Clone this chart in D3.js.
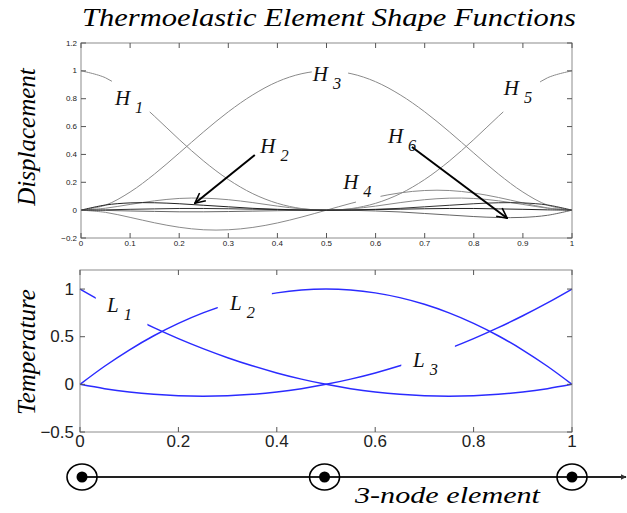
<!DOCTYPE html>
<html>
<head>
<meta charset="utf-8">
<script src="https://cdn.jsdelivr.net/npm/d3@7"></script>
<style>
  body { margin: 0; background: #fff; }
  svg { display: block; }
</style>
</head>
<body>
<div id="chart"></div>
<script>
// sample positions along the element (natural coordinate 0..1)
const xs = [0, 0.05, 0.1, 0.15, 0.2, 0.25, 0.3, 0.35, 0.4, 0.45, 0.5,
            0.55, 0.6, 0.65, 0.7, 0.75, 0.8, 0.85, 0.9, 0.95, 1];

// displacement shape functions
const H1 = [1, 0.950, 0.829, 0.673, 0.507, 0.352, 0.220, 0.118, 0.049, 0.011, 0,
            0.009, 0.029, 0.054, 0.075, 0.086, 0.084, 0.067, 0.041, 0.014, 0];
const H2 = [0, 0.037, 0.052, 0.053, 0.046, 0.035, 0.024, 0.013, 0.006, 0.001, 0,
            0.001, 0.004, 0.007, 0.010, 0.012, 0.012, 0.009, 0.006, 0.002, 0];
const H3 = [0, 0.036, 0.130, 0.260, 0.410, 0.563, 0.706, 0.828, 0.922, 0.980, 1,
            0.980, 0.922, 0.828, 0.706, 0.563, 0.410, 0.260, 0.130, 0.036, 0];
const H4 = [0, -0.016, -0.052, -0.091, -0.123, -0.141, -0.141, -0.124, -0.092, -0.049, 0,
            0.049, 0.092, 0.124, 0.141, 0.141, 0.123, 0.091, 0.052, 0.016, 0];
const H5 = [0, 0.014, 0.041, 0.067, 0.084, 0.086, 0.075, 0.054, 0.029, 0.009, 0,
            0.011, 0.049, 0.118, 0.220, 0.352, 0.507, 0.673, 0.829, 0.950, 1];
const H6 = [0, -0.002, -0.006, -0.009, -0.012, -0.012, -0.010, -0.007, -0.004, -0.001, 0,
            -0.001, -0.006, -0.013, -0.024, -0.035, -0.046, -0.053, -0.052, -0.037, 0];
const H6m = [0, 0.002, 0.006, 0.009, 0.012, 0.012, 0.010, 0.007, 0.004, 0.001, 0,
            0.001, 0.006, 0.013, 0.024, 0.035, 0.046, 0.053, 0.052, 0.037, 0];

// temperature shape functions, lower panel
const L1 = [1, 0.855, 0.72, 0.595, 0.48, 0.375, 0.28, 0.195, 0.12, 0.055, 0,
            -0.045, -0.08, -0.105, -0.12, -0.125, -0.12, -0.105, -0.08, -0.045, 0];
const L2 = [0, 0.19, 0.36, 0.51, 0.64, 0.75, 0.84, 0.91, 0.96, 0.99, 1,
            0.99, 0.96, 0.91, 0.84, 0.75, 0.64, 0.51, 0.36, 0.19, 0];
const L3 = [0, -0.045, -0.08, -0.105, -0.12, -0.125, -0.12, -0.105, -0.08, -0.045, 0,
            0.055, 0.12, 0.195, 0.28, 0.375, 0.48, 0.595, 0.72, 0.855, 1];

const topXTicks = [0, 0.1, 0.2, 0.3, 0.4, 0.5, 0.6, 0.7, 0.8, 0.9, 1];
const topYTicks = [-0.2, 0, 0.2, 0.4, 0.6, 0.8, 1, 1.2];
const botXTicks = [0, 0.2, 0.4, 0.6, 0.8, 1];
const botYTicks = [-0.5, 0, 0.5, 1];
const nodes = [0, 0.495, 1];

const width = 627, height = 513;
const serif = "'Liberation Serif', 'DejaVu Serif', serif";
const sans = "'Liberation Sans', Arial, sans-serif";

const svg = d3.select("#chart").append("svg")
    .attr("width", width)
    .attr("height", height);

svg.append("rect").attr("width", width).attr("height", height).attr("fill", "#fff");

const defs = svg.append("defs");
defs.append("marker")
    .attr("id", "vhead")
    .attr("viewBox", "0 0 12 12")
    .attr("refX", 11).attr("refY", 6)
    .attr("markerWidth", 12).attr("markerHeight", 12)
    .attr("markerUnits", "userSpaceOnUse")
    .attr("orient", "auto")
    .append("path")
    .attr("d", "M1,1 L11,6 L1,11")
    .attr("fill", "none")
    .attr("stroke", "#000")
    .attr("stroke-width", 1.6);
defs.append("marker")
    .attr("id", "smallhead")
    .attr("viewBox", "0 0 10 10")
    .attr("refX", 9).attr("refY", 5)
    .attr("markerWidth", 6).attr("markerHeight", 6)
    .attr("markerUnits", "userSpaceOnUse")
    .attr("orient", "auto")
    .append("path")
    .attr("d", "M0,0 L10,5 L0,10 Z")
    .attr("fill", "#333");

// ── title ──
svg.append("text")
    .attr("x", 329).attr("y", 26)
    .attr("text-anchor", "middle")
    .attr("font-family", serif)
    .attr("font-style", "italic")
    .attr("font-size", 25)
    .attr("textLength", 494)
    .attr("lengthAdjust", "spacingAndGlyphs")
    .text("Thermoelastic Element Shape Functions");

// helper: MATLAB-like boxed axes with inward ticks
function boxAxes(g, x, y, xTicks, yTicks, fontSize, xFmt, yFmt, labelGap) {
    const [x0, x1] = x.range();
    const [y0, y1] = y.range();
    g.append("rect")
        .attr("x", x0).attr("y", y1)
        .attr("width", x1 - x0).attr("height", y0 - y1)
        .attr("fill", "none").attr("stroke", "#8c8c8c").attr("stroke-width", 1);
    const tl = 5;
    xTicks.forEach(t => {
        const px = x(t);
        g.append("line").attr("x1", px).attr("x2", px).attr("y1", y0).attr("y2", y0 - tl)
            .attr("stroke", "#555");
        g.append("line").attr("x1", px).attr("x2", px).attr("y1", y1).attr("y2", y1 + tl)
            .attr("stroke", "#555");
        g.append("text").attr("x", px).attr("y", y0 + labelGap.x)
            .attr("text-anchor", "middle")
            .attr("font-family", sans).attr("font-size", fontSize).attr("fill", "#222")
            .text(xFmt(t));
    });
    yTicks.forEach(t => {
        const py = y(t);
        g.append("line").attr("x1", x0).attr("x2", x0 + tl).attr("y1", py).attr("y2", py)
            .attr("stroke", "#555");
        g.append("line").attr("x1", x1).attr("x2", x1 - tl).attr("y1", py).attr("y2", py)
            .attr("stroke", "#555");
        g.append("text").attr("x", x0 - labelGap.y).attr("y", py)
            .attr("text-anchor", "end").attr("dominant-baseline", "central")
            .attr("font-family", sans).attr("font-size", fontSize).attr("fill", "#222")
            .text(yFmt(t));
    });
}

function drawCurve(g, x, y, values, gap, color, strokeW, id) {
    const line = d3.line()
        .x((d, i) => x(xs[i]))
        .y(d => y(d))
        .curve(d3.curveCatmullRom);
    const path = g.append("path")
        .attr("d", line(values))
        .attr("fill", "none")
        .attr("stroke", color)
        .attr("stroke-width", strokeW);
    if (gap) {
        const cp = defs.append("clipPath").attr("id", id);
        cp.append("rect").attr("x", 0).attr("y", 0)
            .attr("width", x(gap[0])).attr("height", height);
        cp.append("rect").attr("x", x(gap[1])).attr("y", 0)
            .attr("width", width - x(gap[1])).attr("height", height);
        path.attr("clip-path", `url(#${id})`);
    }
}

function subLabel(g, px, py, main, sub, size) {
    const t = g.append("text")
        .attr("x", px).attr("y", py)
        .attr("font-family", serif).attr("font-style", "italic")
        .attr("font-size", size).attr("fill", "#111");
    t.append("tspan").text(main);
    t.append("tspan").attr("dx", 5).attr("dy", 8)
        .attr("font-size", size * 0.78).text(sub);
}

// ── upper panel: displacement ──
const xTop = d3.scaleLinear().domain([0, 1]).range([81, 572]);
const yTop = d3.scaleLinear().domain([-0.2, 1.2]).range([238, 43]);
const gTop = svg.append("g");

const topSeries = [
    { name: "1", values: H1, color: "#8a8a8a", gap: [0.063, 0.14] },
    { name: "3", values: H3, color: "#8a8a8a", gap: [0.47, 0.544] },
    { name: "5", values: H5, color: "#8a8a8a", gap: [0.86, 0.935] },
    { name: "4", values: H4, color: "#8a8a8a", gap: [0.56, 0.61] },
    { name: "6", values: H6, color: "#666", gap: null },
    { name: "6m", values: H6m, color: "#333", gap: null },
    { name: "2", values: H2, color: "#222", gap: null }
];
topSeries.forEach(s => drawCurve(gTop, xTop, yTop, s.values, s.gap, s.color, 1, "clipH" + s.name));

boxAxes(gTop, xTop, yTop, topXTicks, topYTicks, 8,
    d => d3.format("")(d), d => d3.format("")(d), { x: 8, y: 4 });

// arrows to the slope functions
gTop.append("line")
    .attr("x1", xTop(0.354)).attr("y1", yTop(0.396))
    .attr("x2", xTop(0.232)).attr("y2", yTop(0.05))
    .attr("stroke", "#000").attr("stroke-width", 2)
    .attr("marker-end", "url(#vhead)");
gTop.append("line")
    .attr("x1", xTop(0.674)).attr("y1", yTop(0.453))
    .attr("x2", xTop(0.868)).attr("y2", yTop(-0.058))
    .attr("stroke", "#000").attr("stroke-width", 2)
    .attr("marker-end", "url(#vhead)");

const hLabels = [
    { sub: "1", x: 0.069, y: 0.755 },
    { sub: "3", x: 0.472, y: 0.928 },
    { sub: "5", x: 0.861, y: 0.827 },
    { sub: "2", x: 0.365, y: 0.41 },
    { sub: "6", x: 0.625, y: 0.482 },
    { sub: "4", x: 0.534, y: 0.151 }
];
hLabels.forEach(l => subLabel(gTop, xTop(l.x), yTop(l.y), "H", l.sub, 21));

svg.append("text")
    .attr("transform", "translate(35,137) rotate(-90)")
    .attr("text-anchor", "middle")
    .attr("font-family", serif).attr("font-style", "italic")
    .attr("font-size", 25)
    .text("Displacement");

// ── lower panel: temperature ──
const xBot = d3.scaleLinear().domain([0, 1]).range([80, 572]);
const yBot = d3.scaleLinear().domain([-0.5, 1.2]).range([432, 270]);
const gBot = svg.append("g");

const botSeries = [
    { name: "1", values: L1, gap: [0.032, 0.137] },
    { name: "2", values: L2, gap: [0.28, 0.39] },
    { name: "3", values: L3, gap: [0.653, 0.762] }
];
botSeries.forEach(s => drawCurve(gBot, xBot, yBot, s.values, s.gap, "#2b2bff", 1.5, "clipL" + s.name));

boxAxes(gBot, xBot, yBot, botXTicks, botYTicks, 17,
    d => d3.format("")(d), d => d3.format("")(d), { x: 15, y: 6 });

const lLabels = [
    { sub: "1", x: 0.055, y: 0.758 },
    { sub: "2", x: 0.305, y: 0.779 },
    { sub: "3", x: 0.677, y: 0.179 }
];
lLabels.forEach(l => subLabel(gBot, xBot(l.x), yBot(l.y), "L", l.sub, 21));

svg.append("text")
    .attr("transform", "translate(35,352) rotate(-90)")
    .attr("text-anchor", "middle")
    .attr("font-family", serif).attr("font-style", "italic")
    .attr("font-size", 25)
    .text("Temperature");

// ── 3-node element sketch ──
const xNode = d3.scaleLinear().domain([0, 1]).range([82, 572]);
const yNode = 477;
const gNode = svg.append("g");
gNode.append("line")
    .attr("x1", xNode(0)).attr("x2", 626)
    .attr("y1", yNode).attr("y2", yNode)
    .attr("stroke", "#222").attr("stroke-width", 2)
    .attr("marker-end", "url(#smallhead)");
nodes.forEach(n => {
    gNode.append("ellipse")
        .attr("cx", xNode(n)).attr("cy", yNode)
        .attr("rx", 15).attr("ry", 13)
        .attr("fill", "none").attr("stroke", "#000").attr("stroke-width", 1.6);
    gNode.append("circle")
        .attr("cx", xNode(n)).attr("cy", yNode)
        .attr("r", 5.5).attr("fill", "#000");
});
svg.append("text")
    .attr("x", 355).attr("y", 503)
    .attr("font-family", serif).attr("font-style", "italic")
    .attr("font-size", 23)
    .attr("textLength", 185)
    .attr("lengthAdjust", "spacingAndGlyphs")
    .text("3-node element");
</script>
</body>
</html>
